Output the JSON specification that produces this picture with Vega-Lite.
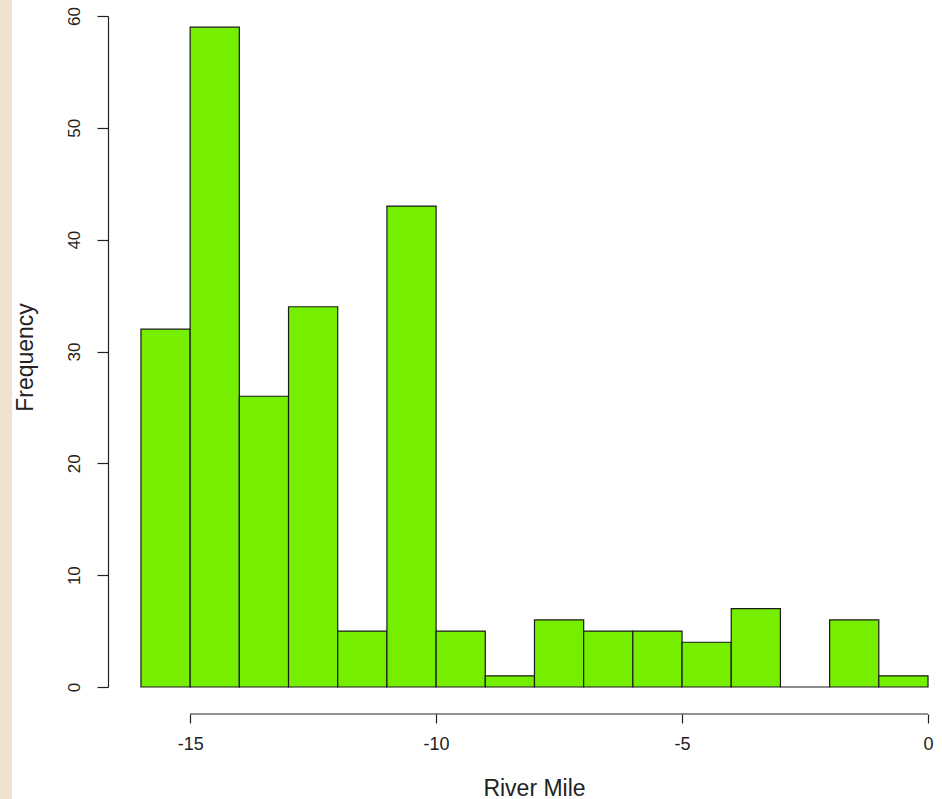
{
  "$schema": "https://vega.github.io/schema/vega-lite/v6.json",
  "width": 820,
  "height": 671,
  "autosize": {"type": "none"},
  "padding": {"left": 108, "top": 16, "right": 14, "bottom": 112},
  "background": "white",
  "config": {
    "view": {"stroke": null},
    "font": "Liberation Sans",
    "axis": {"labelFont": "Liberation Sans", "titleFont": "Liberation Sans", "labelColor": "#222222", "titleColor": "#222222", "domainColor": "#222222", "tickColor": "#222222", "grid": false}
  },
  "layer": [
    {
      "data": {"values": [
        {"start": -16, "end": -15, "count": 32},
        {"start": -15, "end": -14, "count": 59},
        {"start": -14, "end": -13, "count": 26},
        {"start": -13, "end": -12, "count": 34},
        {"start": -12, "end": -11, "count": 5},
        {"start": -11, "end": -10, "count": 43},
        {"start": -10, "end": -9, "count": 5},
        {"start": -9, "end": -8, "count": 1},
        {"start": -8, "end": -7, "count": 6},
        {"start": -7, "end": -6, "count": 5},
        {"start": -6, "end": -5, "count": 5},
        {"start": -5, "end": -4, "count": 4},
        {"start": -4, "end": -3, "count": 7},
        {"start": -3, "end": -2, "count": 0},
        {"start": -2, "end": -1, "count": 6},
        {"start": -1, "end": 0, "count": 1}
      ]},
      "mark": {"type": "rect", "fill": "#76EE00", "stroke": "#1a1a1a", "strokeWidth": 1.2},
      "encoding": {
        "x": {
          "field": "start", "type": "quantitative",
          "scale": {"domain": [-16.67, 0], "nice": false, "zero": false},
          "axis": {
            "title": "River Mile", "titleFontSize": 23, "titleFontWeight": "normal", "titlePadding": 24, "titleX": 426,
            "values": [-15, -10, -5, 0], "labelExpr": "'' + datum.value", "labelFontSize": 18, "labelPadding": 12,
            "tickSize": 9, "tickWidth": 1.2, "offset": 27, "domain": false, "labelFlush": false
          }
        },
        "x2": {"field": "end"},
        "y": {
          "field": "count", "type": "quantitative",
          "scale": {"domain": [0, 60], "nice": false},
          "axis": {
            "title": "Frequency", "titleFontSize": 23, "titleFontWeight": "normal", "titlePadding": 28, "titleY": 341,
            "values": [0, 10, 20, 30, 40, 50, 60], "labelAngle": -90, "labelFontSize": 17, "labelPadding": 14,
            "tickSize": 11, "tickWidth": 1.2, "domainWidth": 1.2, "labelFlush": false
          }
        },
        "y2": {"datum": 0}
      }
    },
    {
      "data": {"values": [{"x1": -19.5, "x2": -18.62, "y1": -12, "y2": 63}]},
      "mark": {"type": "rect", "color": "#EDE3D0", "clip": false},
      "encoding": {
        "x": {"field": "x1", "type": "quantitative"},
        "x2": {"field": "x2"},
        "y": {"field": "y1", "type": "quantitative"},
        "y2": {"field": "y2"}
      }
    },
    {
      "data": {"values": [{"from": -15, "to": 0, "level": -2.414}]},
      "mark": {"type": "rule", "color": "#222222", "strokeWidth": 1.2, "clip": false},
      "encoding": {
        "x": {"field": "from", "type": "quantitative"},
        "x2": {"field": "to"},
        "y": {"field": "level", "type": "quantitative"}
      }
    }
  ]
}
